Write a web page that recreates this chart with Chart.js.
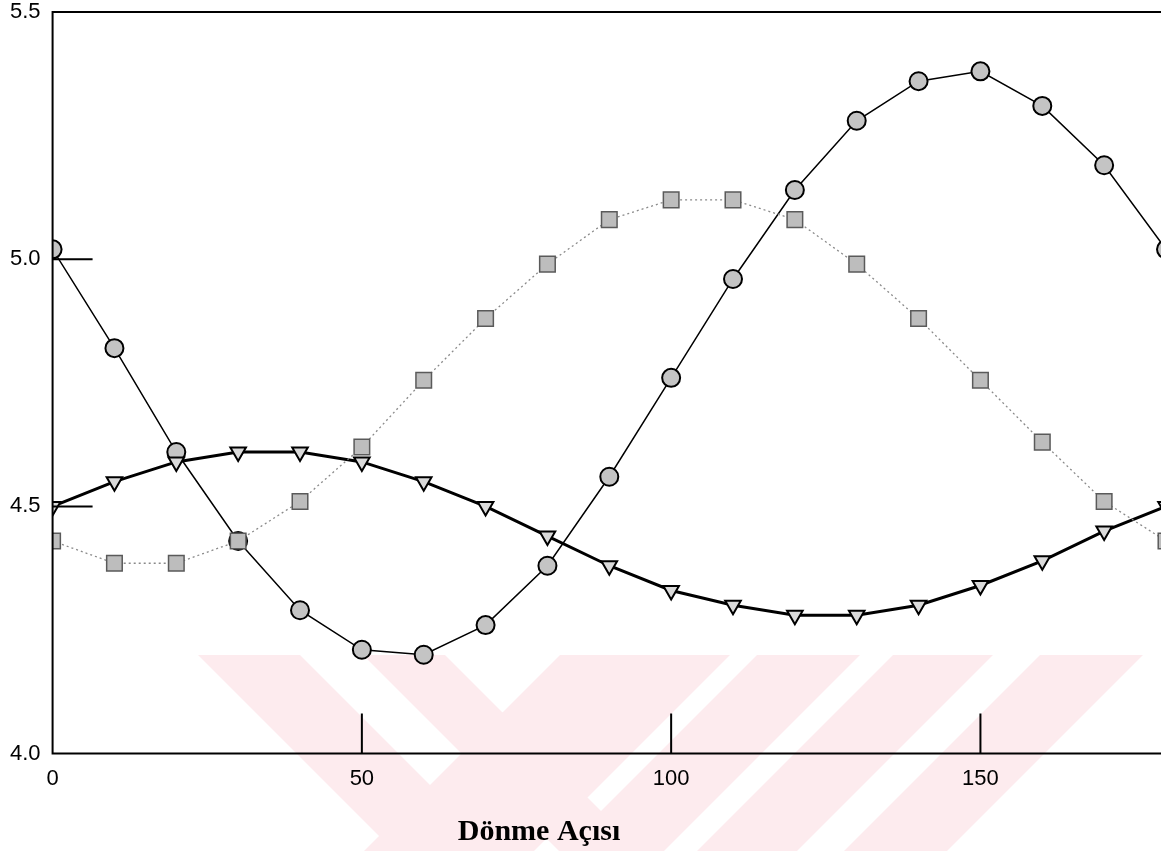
<!DOCTYPE html>
<html lang="tr">
<head>
  <meta charset="UTF-8">
  <title>Dönme Açısı</title>
  <script src="https://cdn.jsdelivr.net/npm/chart.js"></script>
  <style>
    * { margin: 0; padding: 0; box-sizing: border-box; }
    html, body { width: 1161px; height: 851px; overflow: hidden; background: #fff; }
    #wrap { width: 1166px; height: 851px; position: relative; }
  </style>
</head>
<body>
<div id="wrap"><canvas id="chart"></canvas></div>

<script>
// x values (rotation angle)
const angles = [0, 10, 20, 30, 40, 50, 60, 70, 80, 90, 100, 110, 120, 130, 140, 150, 160, 170, 180];

// series
const circleSeries = [5.02, 4.82, 4.61, 4.43, 4.29, 4.21, 4.20, 4.26, 4.38, 4.56, 4.76, 4.96, 5.14, 5.28, 5.36, 5.38, 5.31, 5.19, 5.02];
const squareSeries = [4.43, 4.385, 4.385, 4.43, 4.51, 4.62, 4.755, 4.88, 4.99, 5.08, 5.12, 5.12, 5.08, 4.99, 4.88, 4.755, 4.63, 4.51, 4.43];
const triangleSeries = [4.50, 4.55, 4.59, 4.61, 4.61, 4.59, 4.55, 4.50, 4.44, 4.38, 4.33, 4.30, 4.28, 4.28, 4.30, 4.34, 4.39, 4.45, 4.50];

// axis labels and the inner tick marks
const xTickLabels = [0, 50, 100, 150];
const yTickLabels = [4.0, 4.5, 5.0, 5.5];
const xTickMarks = [50, 100, 150];
const yTickMarks = [4.5, 5.0];
const xTitle = 'Dönme Açısı';

const toPoints = ys => angles.map((x, i) => ({ x, y: ys[i] }));

// faint pink stripes behind the plot (the page watermark)
const watermark = {
  id: 'watermark',
  beforeDraw(chart) {
    const ctx = chart.ctx;
    ctx.save();
    ctx.beginPath();
    ctx.moveTo(0, 655); ctx.lineTo(1166, 655); ctx.lineTo(1166, 969); ctx.lineTo(1000, 803);
    ctx.lineTo(950, 853); ctx.lineTo(0, 853); ctx.closePath();
    ctx.clip();
    ctx.fillStyle = '#fdebee';
    ctx.beginPath();
    const h = 200;
    [[198, 300], [363, 445]].forEach(([a, b]) => {
      ctx.moveTo(a, 655); ctx.lineTo(b, 655); ctx.lineTo(b + h, 655 + h); ctx.lineTo(a + h, 655 + h); ctx.closePath();
    });
    [[560, 730], [757, 860], [893, 993], [1040, 1143]].forEach(([a, b]) => {
      ctx.moveTo(a, 655); ctx.lineTo(b, 655); ctx.lineTo(b - h, 655 + h); ctx.lineTo(a - h, 655 + h); ctx.closePath();
    });
    ctx.fill('nonzero');
    ctx.restore();
  }
};

// frame on left, top, bottom and tick marks pointing inward
const frame = {
  id: 'frame',
  afterDatasetsDraw(chart) {
    const { ctx, chartArea: a, scales: { x, y } } = chart;
    ctx.save();
    ctx.strokeStyle = '#000';
    ctx.lineWidth = 2;
    ctx.beginPath();
    ctx.moveTo(a.right + 10, a.top); ctx.lineTo(a.left, a.top);
    ctx.lineTo(a.left, a.bottom); ctx.lineTo(a.right + 10, a.bottom);
    ctx.stroke();
    ctx.beginPath();
    xTickMarks.forEach(v => {
      const px = x.getPixelForValue(v);
      ctx.moveTo(px, a.bottom); ctx.lineTo(px, a.bottom - 40);
    });
    yTickMarks.forEach(v => {
      const py = y.getPixelForValue(v);
      ctx.moveTo(a.left, py); ctx.lineTo(a.left + 40, py);
    });
    ctx.stroke();
    ctx.restore();
  },
  afterDraw(chart) {
    const ctx = chart.ctx;
    ctx.save();
    ctx.fillStyle = '#000';
    ctx.font = 'bold 30px "Liberation Serif", "Times New Roman", serif';
    ctx.textAlign = 'center';
    ctx.textBaseline = 'alphabetic';
    ctx.fillText(xTitle, 539, 840);
    ctx.restore();
  }
};

const tickFont = { family: '"Liberation Sans", Arial, sans-serif', size: 22 };

new Chart(document.getElementById('chart'), {
  type: 'line',
  data: {
    datasets: [
      {
        data: toPoints(squareSeries),
        clip: 0,
        borderColor: '#8a8a8a',
        borderWidth: 1.3,
        borderDash: [2, 3],
        pointStyle: 'rect',
        pointRadius: 11,
        pointBackgroundColor: '#bdbdbd',
        pointBorderColor: '#5a5a5a',
        pointBorderWidth: 1.5
      },
      {
        data: toPoints(triangleSeries),
        clip: 0,
        borderColor: '#000',
        borderWidth: 3,
        pointStyle: 'triangle',
        pointRotation: 180,
        pointRadius: 9,
        pointBackgroundColor: '#dadada',
        pointBorderColor: '#000',
        pointBorderWidth: 2
      },
      {
        data: toPoints(circleSeries),
        clip: 0,
        borderColor: '#000',
        borderWidth: 1.5,
        pointStyle: 'circle',
        pointRadius: 9,
        pointBackgroundColor: '#c4c4c4',
        pointBorderColor: '#000',
        pointBorderWidth: 2
      }
    ]
  },
  options: {
    responsive: true,
    maintainAspectRatio: false,
    animation: false,
    layout: { autoPadding: false, padding: { left: -2, right: 0, top: 0, bottom: 47 } },
    plugins: { legend: { display: false }, tooltip: { enabled: false } },
    elements: { line: { tension: 0 } },
    scales: {
      x: {
        type: 'linear',
        min: 0,
        max: 180,
        grid: { display: false, drawTicks: false },
        border: { display: false },
        afterBuildTicks: s => { s.ticks = xTickLabels.map(value => ({ value })); },
        ticks: { color: '#000', font: tickFont, padding: 12, maxRotation: 0, autoSkip: false, callback: v => String(v) }
      },
      y: {
        min: 4.0,
        max: 5.5,
        grid: { display: false, drawTicks: false },
        border: { display: false },
        afterBuildTicks: s => { s.ticks = yTickLabels.map(value => ({ value })); },
        afterFit: s => { s.paddingTop = 12; },
        ticks: { color: '#000', font: tickFont, padding: 12, callback: v => Number(v).toFixed(1) }
      }
    }
  },
  plugins: [watermark, frame]
});
</script>
</body>
</html>
